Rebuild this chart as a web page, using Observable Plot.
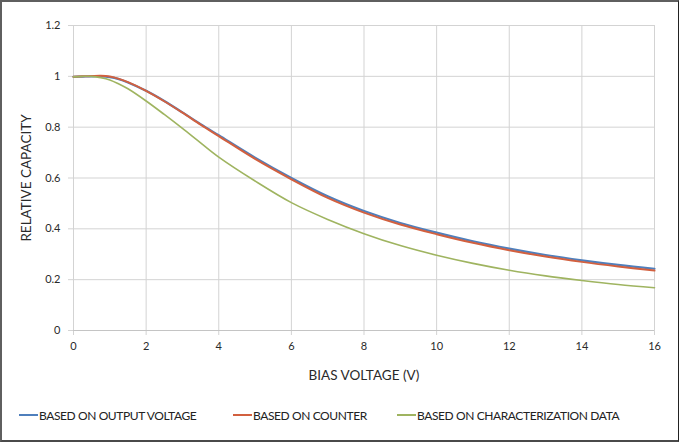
<!DOCTYPE html>
<html>
<head>
<meta charset="utf-8">
<script src="https://cdn.jsdelivr.net/npm/d3@7"></script>
<script src="https://cdn.jsdelivr.net/npm/@observablehq/plot@0.6"></script>
<style>
  html, body { margin: 0; padding: 0; background: #fff; }
  #wrap { position: relative; width: 679px; height: 442px; overflow: hidden; background: #fff; font-family: Lato, "Open Sans", sans-serif; }
  #border { position: absolute; left: 0; top: 0; width: 679px; height: 442px; box-sizing: border-box;
            border-top: 2px solid #5f5f5f; border-left: 2px solid #5f5f5f; border-bottom: 2px solid #4a4a4a; border-right: 1px solid #222;
            pointer-events: none; }
  #chart { position: absolute; left: 0; top: 0; }
  #legend { position: absolute; top: 406px; left: 0; width: 679px; height: 18px; font-size: 12px; letter-spacing: -0.4px; color: #222; }
  .item { position: absolute; top: 0; display: flex; align-items: center; height: 18px; white-space: nowrap; }
  .swatch { display: inline-block; width: 19px; height: 2px; margin-right: 1px; }
</style>
</head>
<body>
<div id="wrap">
  <div id="chart"></div>
  <div id="legend"></div>
  <div id="border"></div>
</div>
<script>
// Data
const seriesNames = ["BASED ON OUTPUT VOLTAGE", "BASED ON COUNTER", "BASED ON CHARACTERIZATION DATA"];
const seriesColors = ["#4f7fbc", "#d2603f", "#9fb460"];
const biasVoltage = [0, 0.25, 0.5, 0.75, 1, 1.25, 1.5, 2, 2.5, 3, 3.5, 4, 5, 6, 7, 8, 9, 10, 11, 12, 13, 14, 15, 16];
const outputVoltage = [0.998, 0.999, 1.0, 1.0, 0.997, 0.989, 0.976, 0.943, 0.903, 0.858, 0.812, 0.768, 0.680, 0.600, 0.528, 0.470, 0.423, 0.385, 0.351, 0.322, 0.297, 0.276, 0.258, 0.243];
const counter = [0.998, 1.0, 1.001, 1.002, 0.999, 0.990, 0.977, 0.943, 0.902, 0.857, 0.810, 0.765, 0.675, 0.595, 0.522, 0.464, 0.417, 0.379, 0.345, 0.316, 0.291, 0.270, 0.252, 0.236];
const characterization = [0.998, 1.0, 1.0, 0.995, 0.986, 0.970, 0.951, 0.903, 0.850, 0.795, 0.738, 0.682, 0.588, 0.503, 0.437, 0.381, 0.334, 0.296, 0.264, 0.237, 0.215, 0.197, 0.181, 0.168];
const xTicks = [0, 2, 4, 6, 8, 10, 12, 14, 16];
const yTicks = [0, 0.2, 0.4, 0.6, 0.8, 1, 1.2];

const allSeries = [outputVoltage, counter, characterization];
const rows = [];
allSeries.forEach((vals, i) => {
  vals.forEach((v, j) => rows.push({series: seriesNames[i], x: biasVoltage[j], y: v}));
});

const gridColor = "#d3d3d3";
const chart = Plot.plot({
  width: 679,
  height: 392,
  marginLeft: 73,
  marginRight: 25,
  marginTop: 25,
  marginBottom: 62,
  style: {fontFamily: "Lato, 'Open Sans', sans-serif", fontSize: "11px", color: "#2a2a2a", background: "transparent"},
  x: {domain: [0, 16]},
  y: {domain: [0, 1.2]},
  color: {domain: seriesNames, range: seriesColors},
  marks: [
    Plot.gridX(xTicks, {stroke: gridColor, strokeOpacity: 1}),
    Plot.gridY(yTicks, {stroke: gridColor, strokeOpacity: 1}),
    Plot.axisX(xTicks, {tickSize: 5, tickPadding: 7, stroke: gridColor, strokeOpacity: 1,
      tickFormat: d => String(d), label: "BIAS VOLTAGE (V)", labelAnchor: "center", labelArrow: "none", labelOffset: 49, fontSize: 11}),
    Plot.axisY(yTicks, {tickSize: 5, tickPadding: 8, stroke: gridColor, strokeOpacity: 1,
      tickFormat: d => String(+d.toFixed(1)), label: "RELATIVE CAPACITY", labelAnchor: "center", labelArrow: "none", labelOffset: 52, fontSize: 11}),
    Plot.ruleY([0], {stroke: "#c4c4c4"}),
    Plot.line(rows.filter(d => d.series === seriesNames[0]), {x: "x", y: "y", stroke: seriesColors[0], strokeWidth: 2.2, curve: "catmull-rom"}),
    Plot.line(rows.filter(d => d.series === seriesNames[1]), {x: "x", y: "y", stroke: seriesColors[1], strokeWidth: 2, curve: "catmull-rom"}),
    Plot.line(rows.filter(d => d.series === seriesNames[2]), {x: "x", y: "y", stroke: seriesColors[2], strokeWidth: 1.6, curve: "catmull-rom"})
  ]
});
document.getElementById("chart").appendChild(chart);

// Axis title font sizes
chart.querySelectorAll("[aria-label='x-axis label'] text, [aria-label='y-axis label'] text").forEach(t => {
  t.setAttribute("font-size", "13.5px");
  t.style.fontSize = "13.5px";
});

// Legend
const legendLefts = [19, 233, 397];
const legend = document.getElementById("legend");
seriesNames.forEach((name, i) => {
  const item = document.createElement("div");
  item.className = "item";
  item.style.left = legendLefts[i] + "px";
  const sw = document.createElement("span");
  sw.className = "swatch";
  sw.style.background = seriesColors[i];
  item.appendChild(sw);
  const label = document.createElement("span");
  label.textContent = name;
  item.appendChild(label);
  legend.appendChild(item);
});
</script>
</body>
</html>
